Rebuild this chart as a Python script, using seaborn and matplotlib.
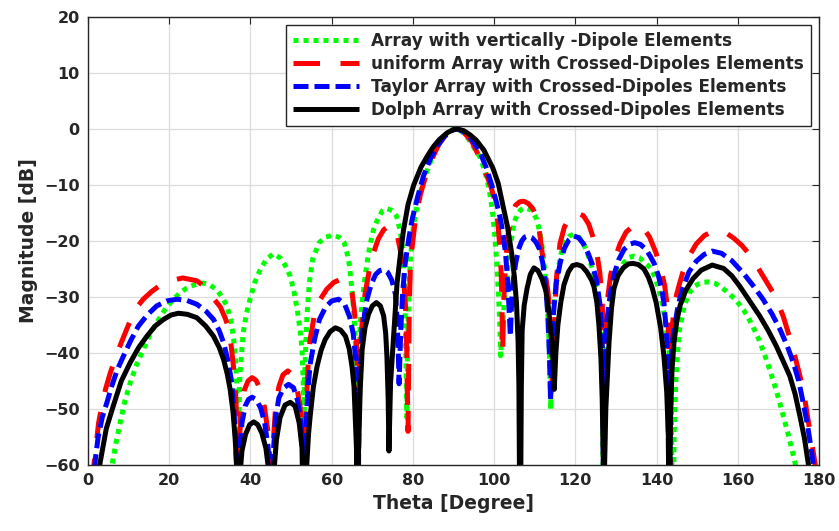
import numpy as np
import pandas as pd
import matplotlib
matplotlib.use("Agg")
import matplotlib.pyplot as plt
import seaborn as sns

# ---------------- data ----------------
series_names = [
    "Array with vertically -Dipole Elements",
    "uniform Array with Crossed-Dipoles Elements",
    "Taylor Array with Crossed-Dipoles Elements",
    "Dolph Array with Crossed-Dipoles Elements",
]
series_colors = ["#00ff00", "#ff0000", "#0000ff", "#000000"]

x_ticks = [0, 20, 40, 60, 80, 100, 120, 140, 160, 180]
y_ticks = [-60, -50, -40, -30, -20, -10, 0, 10, 20]

green_theta = [0, 5.5, 5.9, 6.9, 7.9, 9.1, 10.4, 12.0, 13.6, 15.2, 16.9, 19.0, 21.0, 22.6, 24.3, 26.3, 28.4, 30.1, 31.7, 33.0, 34.2, 35.1, 35.8, 36.3, 36.6, 36.8, 36.9,
               37.1, 37.4, 38.2, 39.0, 39.9, 41.0, 42.4, 43.9, 45.6, 47.3, 48.6, 49.8, 50.7, 51.5, 52.2, 52.7, 53.0, 53.1,
               53.3, 53.9, 54.5, 55.3, 56.9, 58.5, 60.2, 61.8, 63.1, 63.8, 64.4, 65.2, 65.6, 65.9, 66.2, 66.4,
               66.6, 67.0, 67.5, 68.2, 68.9, 69.5, 70.3, 71.5, 72.5, 73.6, 75.0, 76.0, 76.9, 77.5, 77.9, 78.1, 78.3, 78.5,
               78.7, 79.0, 79.4, 80.1, 81.0, 82.3, 83.8, 85.5, 87.3, 89.0, 90.4, 92.0, 93.7, 95.2, 96.5, 97.7, 98.7, 99.5, 100.1, 100.7, 101.1, 101.4, 101.6,
               101.9, 102.4, 103.0, 103.6, 104.3, 104.9, 105.7, 106.6, 107.8, 109.2, 110.4, 111.3, 111.8, 112.5, 113.0, 113.4, 113.7, 113.9,
               114.2, 114.7, 115.5, 116.5, 117.6, 118.6, 119.5, 120.6, 121.8, 123.0, 124.3, 125.3, 126.0, 126.6, 127.0,
               127.3, 127.9, 128.7, 129.7, 130.8, 132.0, 133.3, 134.5, 135.8, 137.0, 138.5, 139.5, 140.5, 141.5, 142.2, 143.0, 143.6, 144.0,
               144.3, 144.7, 145.5, 146.8, 148.0, 149.5, 151.0, 152.8, 154.5, 156.0, 157.4, 159.5, 161.5, 163.4, 165.2, 166.7, 168.1, 169.6, 171.0, 172.5, 173.9, 174.5, 180]
green_db = [-80, -63, -60, -56, -52.5, -48.5, -45.3, -42, -39.4, -36.8, -34.6, -32.2, -30.4, -29.3, -28.4, -27.8, -27.5, -27.9, -28.7, -30, -31.6, -34, -37, -41, -45.3, -52, -80,
            -52, -44.1, -36.4, -33, -30.4, -27.5, -25.1, -23.3, -22.3, -23, -24.4, -26.3, -29, -32.2, -35.8, -39.4, -45.3, -80,
            -45, -33.4, -27.5, -23.3, -20.3, -19.3, -19.0, -19.3, -20.3, -22.2, -24.5, -30.4, -34.5, -39.4, -46, -80,
            -48, -35, -31, -26.5, -23, -20.5, -18, -15.8, -14.6, -14.2, -14.6, -15.6, -18.3, -21.5, -27, -33, -42, -51.5,
            -38, -29, -23, -17.5, -13.8, -10, -6.8, -3.8, -1.6, -0.3, 0, -0.4, -1.8, -3.5, -5, -7.5, -10.5, -14.2, -18.5, -24.5, -30, -35, -40.5,
            -37, -32, -27.5, -23.5, -19.5, -16.8, -15.2, -14.4, -14.1, -14.5, -16.0, -18.5, -20.9, -25.5, -30, -35.8, -42, -50,
            -40, -32, -26, -22.2, -20, -19.1, -18.8, -19.1, -20.2, -22.2, -25.3, -29, -33.5, -40, -80,
            -45, -36, -31, -27.5, -25.3, -23.8, -22.9, -22.7, -23, -23.8, -24.8, -26.3, -28.5, -31.5, -34.5, -39, -46, -80,
            -55, -45.3, -36.4, -31.6, -29.3, -28.0, -27.4, -27.3, -27.6, -28.3, -29.1, -30.5, -32.4, -34.8, -37.6, -40.5, -43.5, -47, -50.7, -54.8, -59, -61, -80]

red_theta = [0, 1.3, 1.9, 2.6, 3.4, 4.3, 5.5, 7.5, 9.5, 11.6, 13.6, 15.7, 18.0, 20.2, 23.3, 26.8, 28.8, 30.5, 32.6, 33.8, 34.6, 35.3, 35.9, 36.4, 36.7, 36.9,
             37.2, 37.7, 38.4, 39.4, 40.4, 41.4, 42.4, 43.4, 44.2, 44.8, 45.2,
             45.6, 46.2, 47.0, 48.0, 49.2, 50.4, 51.4, 52.2, 52.8, 53.2,
             53.6, 54.2, 54.7, 55.8, 57.2, 58.8, 60.5, 62.3, 63.9, 65.0, 65.6, 66.0, 66.3, 66.4,
             66.6, 67.0, 67.5, 68.2, 69.2, 70.3, 71.5, 72.8, 74.2, 75.3, 76.2, 77.0, 77.7, 78.2, 78.5, 78.8,
             79.1, 79.4, 79.9, 80.6, 81.8, 83.1, 84.6, 86.2, 88.0, 90.4, 92.5, 94.5, 96.6, 98.3, 99.2, 100.3, 100.9, 101.4, 101.7, 101.9, 102.0, 102.1,
             102.4, 102.8, 103.4, 104.3, 105.3, 106.3, 107.3, 108.4, 109.5, 110.8, 111.6, 112.4, 113.2, 113.8, 114.2, 114.5,
             114.8, 115.3, 116.2, 117.3, 118.8, 120.5, 122.0, 123.3, 124.3, 125.2, 126.0, 126.6, 126.9, 127.0,
             127.2, 127.8, 128.7, 129.7, 131.0, 132.5, 134.6, 136.5, 138.2, 139.8, 141.0, 142.0, 142.7, 143.0, 143.2,
             143.5, 143.9, 144.5, 145.5, 146.5, 148.0, 149.8, 151.8, 153.5, 155.1, 157.0, 159.0, 161.0, 163.0, 164.0, 166.4, 169.4, 171.2, 172.8, 174.1, 175.3, 176.4, 177.3, 178.2, 179.0, 179.5, 180]
red_db = [-80, -61, -57, -52.5, -49.5, -46.5, -43.5, -39.4, -35.8, -32.2, -30.4, -29.0, -27.8, -27.1, -26.6, -27.1, -28.2, -29.9, -31.8, -33.8, -35.5, -39, -43, -48, -55, -80,
          -57, -50, -46.8, -45, -44.4, -44.9, -46.5, -49.5, -53.5, -59, -80,
          -56, -49.5, -46, -43.9, -43.2, -43.9, -46, -49.5, -55, -80,
          -52, -42, -37.5, -33, -30.4, -28.6, -27.4, -26.8, -27.5, -29.2, -32.5, -36, -42, -80,
          -50, -40, -34.5, -29.5, -25.5, -22.1, -19.6, -18, -17.2, -17.6, -19.2, -22, -26.5, -32, -40, -54,
          -32, -24, -20.5, -16.2, -11.8, -8.5, -5.5, -3.0, -1.1, 0, -0.6, -2.2, -5.4, -8.5, -10.3, -13.1, -16.5, -21, -25, -30, -35, -40,
          -30, -24, -19, -15.3, -13.6, -13.0, -12.9, -13.3, -14.2, -16.2, -21, -25, -28.7, -32.8, -36.5, -45,
          -36, -27, -20.5, -17.5, -15.6, -15.0, -15.5, -17, -19.2, -21.8, -25.5, -30.5, -38, -80,
          -40, -31, -26, -23.2, -20.5, -18.4, -17.1, -17.5, -19.2, -22.0, -24.8, -28, -32, -38, -80,
          -45, -35, -30.8, -28, -25.5, -22.7, -20.5, -19, -18.4, -18.2, -18.5, -19.5, -20.8, -22.5, -23.6, -26.5, -30.1, -33.5, -37.3, -40.7, -44.1, -47.8, -51.9, -56, -59.6, -64, -80]

blue_theta = [0, 1.3, 1.8, 2.5, 3.5, 4.8, 5.8, 7.2, 8.7, 10.5, 12.4, 14.6, 16.9, 19.4, 21.9, 24.3, 26.8, 29.0, 30.9, 32.3, 33.4, 34.5, 35.4, 35.9, 36.3, 36.6, 36.9,
              37.3, 37.9, 38.7, 39.5, 40.4, 41.4, 42.5, 43.5, 44.3, 44.8, 45.2,
              45.6, 46.2, 47.0, 48.2, 49.4, 50.6, 51.6, 52.4, 52.9, 53.2,
              53.6, 54.1, 54.7, 55.8, 57.0, 58.5, 60.0, 61.7, 63.2, 64.4, 65.3, 65.9, 66.2, 66.4,
              66.7, 67.1, 67.5, 68.1, 68.7, 69.7, 70.8, 71.8, 72.8, 73.8, 74.8, 75.7, 76.1, 76.4, 76.6,
              77.0, 77.5, 78.1, 79.0, 79.8, 81.2, 82.6, 84.2, 85.9, 87.7, 89.4, 90.8, 92.3, 94.0, 95.4, 96.6, 98.0, 99.5, 100.6, 101.6, 102.3, 102.8, 103.2, 103.6, 104.0,
              104.3, 104.7, 105.3, 106.0, 106.8, 107.5, 108.3, 109.3, 110.3, 111.2, 112.0, 112.7, 113.2, 113.6, 113.9,
              114.2, 114.6, 115.3, 116.3, 117.3, 118.4, 119.6, 120.8, 122.0, 123.2, 124.2, 125.2, 126.0, 126.5, 126.8, 127.0,
              127.3, 127.8, 128.7, 129.6, 130.7, 132.0, 133.3, 134.6, 136.0, 137.4, 138.5, 139.4, 140.5, 141.3, 141.8, 142.4, 142.8, 143.1,
              143.4, 143.9, 144.5, 145.3, 146.5, 148.0, 149.8, 151.7, 153.7, 156.0, 158.5, 161.3, 163.8, 166.2, 168.4, 170.4, 172.2, 173.7, 175.0, 176.1, 177.2, 178.2, 178.8, 180]
blue_db = [-80, -65, -59, -55, -51.5, -48.5, -46, -43, -40.6, -37.8, -35.2, -33.2, -31.6, -30.7, -30.4, -30.6, -31.3, -32.5, -34.0, -36, -38.2, -41.5, -45.3, -50, -55, -61, -80,
           -58, -52.5, -49.5, -48.3, -47.9, -48.3, -49.8, -52.5, -56.5, -61, -80,
           -58, -51.5, -48, -46.2, -45.6, -46.2, -48.5, -52.5, -58, -80,
           -55, -47, -42, -37.5, -34, -31.8, -30.7, -30.4, -31.3, -33.5, -36.5, -41, -48, -80,
           -52, -42, -37, -33, -30.4, -27.8, -26.0, -25.3, -25.1, -25.6, -27.0, -29.5, -34, -40, -45.5,
           -36, -29, -24, -19.5, -16.2, -12, -8.4, -5.5, -3.1, -1.4, -0.3, 0, -0.4, -1.4, -2.8, -4.3, -6.8, -10.2, -13.2, -16.2, -19.5, -22.1, -26, -31, -37,
           -31, -27, -24.0, -21.5, -20.0, -19.3, -19.1, -19.4, -20.2, -21.5, -24, -28.3, -33, -40, -48.5,
           -40, -33, -27.5, -23.8, -21.3, -19.8, -19.1, -19.4, -20.5, -22.3, -24.2, -27, -31, -36, -42, -80,
           -42, -34, -29.0, -25.8, -23.3, -21.5, -20.6, -20.3, -20.6, -21.5, -22.8, -24.0, -26.3, -28.8, -31, -36, -42, -80,
           -43, -38, -35, -31.5, -28.3, -25.5, -23.6, -22.4, -21.8, -22.2, -23.5, -25.7, -28, -30.4, -33, -35.8, -38.8, -41.8, -45, -48.9, -53, -57.8, -61, -80]

black_theta = [0, 2.5, 3.0, 4.5, 6.2, 8.2, 10.4, 12.5, 14.5, 16.5, 18.6, 20.5, 22.3, 24.5, 26.8, 29.0, 30.9, 32.3, 33.4, 34.3, 35.0, 35.7, 36.2, 36.6, 36.9,
               37.3, 37.9, 38.8, 39.8, 40.8, 41.8, 42.8, 43.8, 44.5, 45.2,
               45.7, 46.4, 47.3, 48.5, 49.8, 51.0, 52.0, 52.7, 53.2,
               53.7, 54.3, 54.7, 55.5, 56.4, 57.4, 58.4, 59.6, 60.9, 62.2, 63.4, 64.3, 65.0, 65.5, 65.8, 66.1, 66.3,
               66.6, 67.0, 67.5, 68.2, 69.1, 70.0, 71.0, 72.0, 72.8, 73.3, 73.6, 73.9, 74.1,
               74.5, 75.3, 76.1, 76.9, 77.7, 78.8, 80.2, 82.0, 83.5, 85.0, 86.5, 88.4, 90.0, 91.0, 92.5, 94.0, 95.6, 97.5, 99.7, 101.0, 102.2, 103.3, 104.3, 105.0, 105.5, 105.9, 106.1, 106.4,
               106.7, 106.9, 107.4, 108.1, 108.9, 109.8, 110.8, 111.8, 112.7, 113.4, 113.9, 114.4, 114.8,
               115.2, 115.7, 116.4, 117.2, 118.3, 119.3, 120.4, 121.6, 122.8, 124.0, 124.6, 125.3, 125.8, 126.3, 126.6, 126.9, 127.0,
               127.2, 127.5, 127.9, 128.3, 128.9, 129.5, 130.5, 131.8, 133.0, 134.2, 135.5, 136.9, 138.0, 138.9, 139.9, 141.0, 141.8, 142.5, 142.9, 143.1,
               143.4, 143.8, 144.3, 145.0, 145.8, 147.2, 149.0, 151.0, 153.7, 156.5, 158.5, 160.5, 163.0, 165.4, 167.5, 169.5, 171.2, 172.8, 174.1, 175.3, 176.4, 177.3, 178.5, 180]
black_db = [-80, -62, -59.5, -53.5, -49.5, -45, -41.7, -39, -37.0, -35.2, -34.0, -33.2, -32.9, -33.1, -33.7, -35.2, -37.0, -39, -41.2, -43.8, -46.5, -50.5, -55, -60, -80,
            -63, -57.5, -54.5, -52.8, -52.3, -52.8, -54.3, -57, -61, -80,
            -62, -55.5, -51.5, -49.3, -48.8, -49.5, -52.5, -57, -80,
            -62, -54.5, -51.3, -46, -42.4, -39.5, -37.6, -36.2, -35.5, -35.9, -37, -39.2, -42.4, -46, -51.3, -57, -80,
            -58, -47, -39.4, -35.5, -33.0, -31.6, -31.0, -31.6, -33.4, -36.5, -40.6, -48, -57.5,
            -45.3, -36.4, -27.5, -22.5, -18, -13.5, -10, -6.8, -4.9, -3.2, -1.9, -0.7, -0.1, 0, -0.3, -1.0, -2.0, -3.8, -7.0, -9.7, -13.8, -17.5, -22.1, -26.5, -31, -38, -46, -80,
            -46, -36, -31.5, -28.5, -26, -24.8, -25.3, -26.8, -28.8, -32, -35.8, -40, -46.5,
            -40, -35, -31, -27.8, -25.5, -24.4, -24.2, -24.5, -25.5, -27.0, -28.2, -31.0, -35, -41, -48, -60, -80,
            -60, -50, -44, -38, -32, -28.5, -26.2, -24.8, -24.1, -24.0, -24.2, -25.0, -26.5, -28.3, -31, -35.5, -40.5, -47, -55, -80,
            -52, -43, -38, -34.2, -31.5, -28.8, -26.7, -25.2, -24.3, -24.9, -26.2, -28.1, -30.8, -33.4, -36, -38.8, -41.5, -44.1, -47.3, -51.3, -55.2, -59.5, -66, -80]

# ---------------- build long table ----------------
frames = []
for name, th, db in zip(series_names,
                        [green_theta, red_theta, blue_theta, black_theta],
                        [green_db, red_db, blue_db, black_db]):
    frames.append(pd.DataFrame({"theta": th, "db": db, "series": name}))
df = pd.concat(frames, ignore_index=True)

# ---------------- style ----------------
sns.set_theme(style="white")
plt.rcParams["font.family"] = ["DejaVu Sans"]
plt.rcParams["font.weight"] = "bold"
plt.rcParams["axes.labelweight"] = "bold"

fig = plt.figure(figsize=(8.39, 5.31), dpi=100)
ax = fig.add_axes([0.1049, 0.1243, 0.8713, 0.8437])

palette = dict(zip(series_names, series_colors))
dashes = {
    series_names[0]: (1.0, 1.0),
    series_names[1]: (5.3, 4.1),
    series_names[2]: (3.0, 1.2),
    series_names[3]: "",
}

sns.lineplot(data=df, x="theta", y="db", hue="series", style="series",
             hue_order=series_names, style_order=series_names,
             palette=palette, dashes=dashes, sort=False, estimator=None,
             units="series", linewidth=3.6, ax=ax, legend="full")

for ln in ax.get_lines():
    ln.set_dash_capstyle("butt")
    ln.set_solid_capstyle("butt")
    ln.set_solid_joinstyle("round")

ax.set_xlim(0, 180)
ax.set_ylim(-60, 20)
ax.set_xticks(x_ticks)
ax.set_yticks(y_ticks)
ax.grid(True, color="#dcdcdc", linewidth=0.9)
ax.set_axisbelow(True)
ax.tick_params(direction="in", length=5, width=0.8, colors="#262626",
               top=True, right=True, labelsize=11.5, pad=6)
for lab in ax.get_xticklabels() + ax.get_yticklabels():
    lab.set_fontweight("bold")
for sp in ax.spines.values():
    sp.set_color("#262626")
    sp.set_linewidth(1.0)

ax.set_xlabel("Theta [Degree]", fontsize=13.5, fontweight="bold", color="#262626", labelpad=4)
ax.set_ylabel("Magnitude [dB]", fontsize=13.5, fontweight="bold", color="#262626", labelpad=4)

leg = ax.legend(loc="upper right", bbox_to_anchor=(0.989, 0.982), borderaxespad=0,
                fancybox=False, framealpha=1, edgecolor="#262626",
                prop={"weight": "bold", "size": 12.2}, handlelength=3.9,
                labelspacing=0.3, borderpad=0.4, handletextpad=0.75)
leg.get_frame().set_linewidth(1.0)
for h in leg.get_lines():
    h.set_linewidth(3.6)

fig.savefig("out.png", dpi=100)
